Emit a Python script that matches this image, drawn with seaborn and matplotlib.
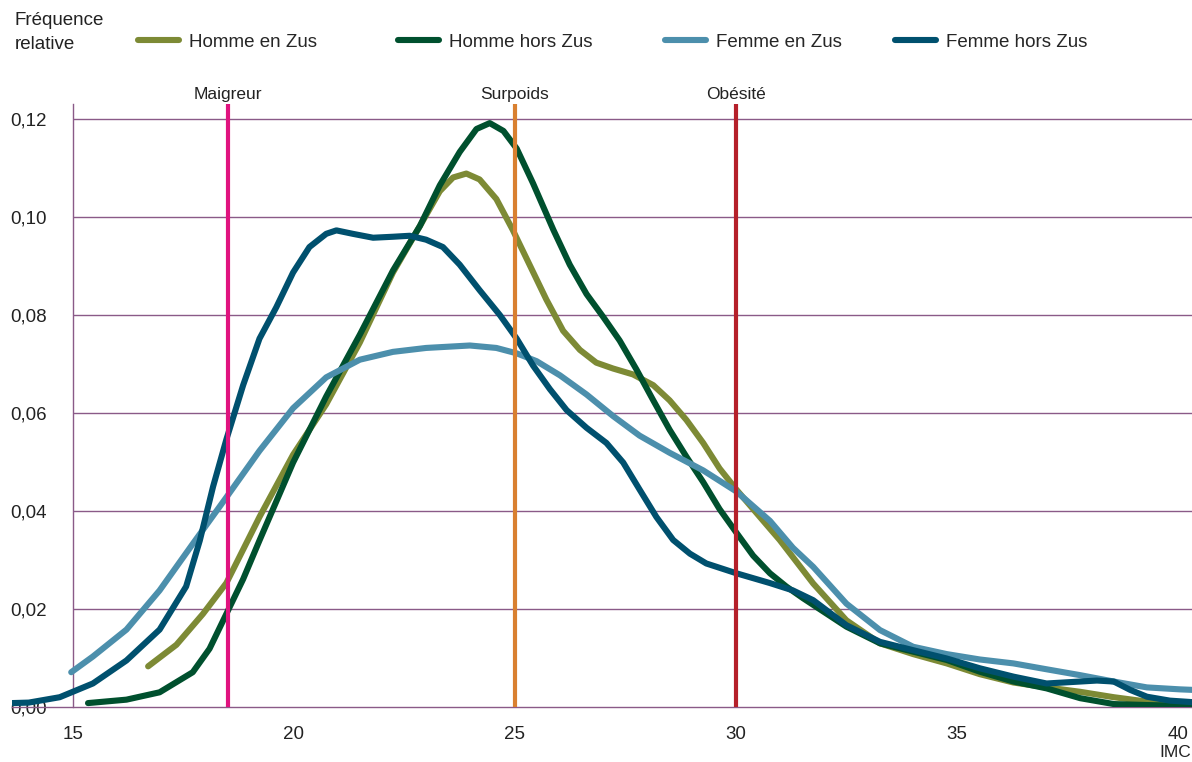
import numpy as np
import pandas as pd
import matplotlib
matplotlib.use("Agg")
import matplotlib.pyplot as plt
import seaborn as sns

# courbes (IMC -> fréquence relative)
x_hz = [16.70, 17.34, 17.94, 18.47, 19.22, 19.98, 20.73, 21.49, 22.24, 22.85, 23.30, 23.60,
        23.90, 24.20, 24.58, 24.95, 25.33, 25.71, 26.09, 26.47, 26.84, 27.22, 27.67, 28.13,
        28.50, 28.88, 29.26, 29.63, 30.01, 30.39, 30.77, 30.99, 31.75, 32.50, 33.26, 34.01,
        34.77, 35.52, 36.28, 37.03, 37.79, 38.55, 39.30, 40.32]
y_hz = [0.0083, 0.0127, 0.0190, 0.0253, 0.0388, 0.0515, 0.0618, 0.0744, 0.0887, 0.0982, 0.1053,
        0.1081, 0.1089, 0.1077, 0.1037, 0.0974, 0.0903, 0.0832, 0.0768, 0.0729, 0.0703, 0.0691,
        0.0679, 0.0657, 0.0626, 0.0586, 0.0539, 0.0487, 0.0444, 0.0404, 0.0364, 0.0341, 0.0252,
        0.0177, 0.0130, 0.0108, 0.0089, 0.0067, 0.0050, 0.0040, 0.0031, 0.0020, 0.0011, 0.0002]

x_hh = [15.34, 16.21, 16.96, 17.71, 18.09, 18.47, 18.85, 19.22, 19.98, 20.73, 21.49, 22.24,
        22.85, 23.30, 23.75, 24.13, 24.43, 24.74, 25.04, 25.41, 25.87, 26.24, 26.62, 27.00,
        27.37, 27.75, 28.13, 28.50, 28.88, 29.26, 29.63, 30.01, 30.39, 30.77, 31.14, 31.52,
        32.50, 33.26, 34.01, 34.77, 35.52, 36.28, 37.03, 37.79, 38.55, 39.30, 40.32]
y_hh = [0.0008, 0.0015, 0.0030, 0.0071, 0.0119, 0.0190, 0.0261, 0.0340, 0.0499, 0.0634, 0.0760,
        0.0891, 0.0982, 0.1065, 0.1133, 0.1180, 0.1192, 0.1176, 0.1140, 0.1069, 0.0974, 0.0903,
        0.0843, 0.0796, 0.0748, 0.0689, 0.0626, 0.0566, 0.0511, 0.0459, 0.0404, 0.0356, 0.0309,
        0.0273, 0.0246, 0.0222, 0.0164, 0.0130, 0.0113, 0.0096, 0.0072, 0.0052, 0.0038, 0.0018,
        0.0006, 0.0004, 0.0002]

x_fz = [14.96, 15.45, 16.21, 16.96, 17.71, 18.47, 19.22, 19.98, 20.73, 21.49, 22.24, 22.99,
        23.98, 24.58, 25.04, 25.49, 26.02, 26.62, 27.22, 27.82, 28.50, 29.26, 30.01, 30.77,
        31.29, 31.75, 32.50, 33.26, 34.01, 34.77, 35.52, 36.28, 37.03, 37.79, 38.55, 39.30,
        40.05, 40.32]
y_fz = [0.0071, 0.0103, 0.0158, 0.0238, 0.0333, 0.0428, 0.0523, 0.0610, 0.0673, 0.0709, 0.0725,
        0.0733, 0.0738, 0.0733, 0.0722, 0.0706, 0.0677, 0.0638, 0.0594, 0.0554, 0.0519, 0.0483,
        0.0440, 0.0380, 0.0325, 0.0286, 0.0211, 0.0157, 0.0123, 0.0108, 0.0097, 0.0089, 0.0077,
        0.0065, 0.0052, 0.0040, 0.0036, 0.0035]

x_fh = [13.62, 14.00, 14.70, 15.45, 16.21, 16.96, 17.56, 17.87, 18.17, 18.47, 18.85, 19.22,
        19.60, 19.98, 20.35, 20.73, 20.96, 21.33, 21.79, 22.24, 22.62, 22.99, 23.37, 23.75,
        24.20, 24.66, 25.04, 25.41, 25.79, 26.17, 26.62, 27.07, 27.45, 27.82, 28.20, 28.58,
        28.96, 29.33, 30.01, 30.77, 31.29, 31.75, 32.50, 33.26, 34.01, 34.77, 35.52, 36.28,
        37.03, 37.79, 38.17, 38.55, 38.92, 39.30, 39.82, 40.32]
y_fh = [0.0008, 0.0009, 0.0020, 0.0048, 0.0095, 0.0158, 0.0246, 0.0340, 0.0450, 0.0546, 0.0657,
        0.0752, 0.0816, 0.0887, 0.0939, 0.0966, 0.0973, 0.0966, 0.0958, 0.0960, 0.0962, 0.0954,
        0.0939, 0.0903, 0.0851, 0.0800, 0.0752, 0.0697, 0.0649, 0.0606, 0.0570, 0.0539, 0.0499,
        0.0444, 0.0388, 0.0341, 0.0313, 0.0293, 0.0273, 0.0253, 0.0238, 0.0218, 0.0167, 0.0133,
        0.0116, 0.0099, 0.0079, 0.0062, 0.0048, 0.0052, 0.0054, 0.0052, 0.0035, 0.0021, 0.0013,
        0.0010]

series = ["Homme en Zus", "Homme hors Zus", "Femme en Zus", "Femme hors Zus"]
colors = ["#7D8A35", "#00502E", "#4C8FAC", "#00506E"]
legend_x = [138, 398, 665, 895]  # position des entrées de légende (pixels)

seuils = [18.5, 25, 30]
seuil_labels = ["Maigreur", "Surpoids", "Obésité"]
seuil_colors = ["#E0137F", "#D98030", "#B5202A"]

y_ticks = [0.00, 0.02, 0.04, 0.06, 0.08, 0.10, 0.12]
x_ticks = [15, 20, 25, 30, 35, 40]

df = pd.concat([
    pd.DataFrame({"IMC": x, "freq": y, "serie": s})
    for x, y, s in zip([x_hz, x_hh, x_fz, x_fh], [y_hz, y_hh, y_fz, y_fh], series)
])

sns.set_style("white")
plt.rcParams["font.family"] = ["Liberation Sans", "DejaVu Sans"]

grid_col = "#8A5A88"
txt_col = "#222222"

W, H = 1192, 762
fig = plt.figure(figsize=(W / 100, H / 100), dpi=100)
ax = fig.add_axes([12 / W, 55 / H, 1180 / W, 603 / H])

for s, c in zip(series, colors):
    sns.lineplot(data=df[df.serie == s], x="IMC", y="freq", color=c, linewidth=4.4,
                 sort=False, ax=ax, label=s, zorder=3, solid_joinstyle="round")

ax.set_xlim(13.62, 40.32)
ax.set_ylim(0, 0.1231)

# quadrillage horizontal (à partir de l'axe x=15)
ax.hlines(y_ticks[1:], 15, 40.32, color=grid_col, linewidth=1.0, zorder=1)

for v, lab, c in zip(seuils, seuil_labels, seuil_colors):
    ax.axvline(v, color=c, linewidth=3, zorder=4)
    ax.text(v, 0.1236, lab, ha="center", va="bottom", fontsize=12.5, color=txt_col)

for sp in ["top", "right"]:
    ax.spines[sp].set_visible(False)
ax.spines["left"].set_position(("data", 15))
for sp in ["left", "bottom"]:
    ax.spines[sp].set_color(grid_col)
    ax.spines[sp].set_linewidth(1.0)

ax.set_yticks(y_ticks)
ax.set_yticklabels([f"{v:.2f}".replace(".", ",") for v in y_ticks])
ax.set_xticks(x_ticks)
ax.set_xticklabels([str(v) for v in x_ticks])
ax.tick_params(axis="both", length=5, width=0.9, color="#333333", labelsize=13.5,
               labelcolor=txt_col, direction="out")
ax.tick_params(axis="y", pad=14)
ax.tick_params(axis="x", pad=9)
ax.set_xlabel("")
ax.set_ylabel("")

fig.text(15 / W, 1 - 12 / H, "Fréquence\nrelative", ha="left", va="top", fontsize=13.5,
         color=txt_col, linespacing=1.55)
ax.text(40.3, -0.0078, "IMC", ha="right", va="top", fontsize=12.5, color=txt_col)

# légende : une entrée par position, comme dans l'original
handles, labels = ax.get_legend_handles_labels()
ax.get_legend().remove()
for h, lab, lx in zip(handles, labels, legend_x):
    fig.legend([h], [lab], loc="center left", bbox_to_anchor=(lx / W, 1 - 42 / H),
               frameon=False, fontsize=13.5, handlelength=2.2, handletextpad=0.5,
               borderpad=0, borderaxespad=0)

fig.savefig("out.png", dpi=100)
